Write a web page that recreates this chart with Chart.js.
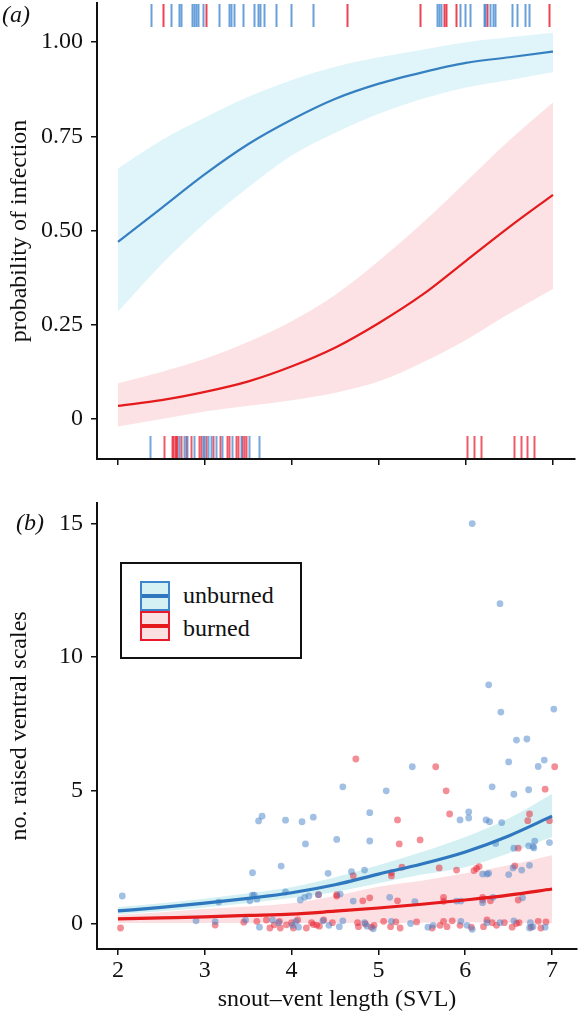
<!DOCTYPE html>
<html>
<head>
<meta charset="utf-8">
<script src="https://cdn.jsdelivr.net/npm/chart.js@4/dist/chart.umd.min.js"></script>
<style>
  html, body { margin:0; padding:0; background:#fff; }
  body { width:581px; height:1019px; position:relative; overflow:hidden; font-family:"Liberation Serif", "DejaVu Serif", serif; }
  #ca { position:absolute; left:0; top:0; }
  #cb { position:absolute; left:0; top:490px; }
  .plab { position:absolute; font-style:italic; font-size:24px; line-height:28px; color:#111; }
  #legend { position:absolute; left:120px; top:562px; width:178px; height:93px; border:2px solid #111; background:#fff; }
  .key { position:absolute; left:18px; width:26px; height:26px; border:2px solid; }
  .key i { position:absolute; left:0; right:0; top:11px; height:4px; }
  .ltxt { position:absolute; left:61px; font-size:24px; line-height:28px; color:#111; }
</style>
</head>
<body>
<canvas id="ca" width="581" height="490"></canvas>
<canvas id="cb" width="581" height="529"></canvas>
<div class="plab" style="left:2px;top:0px;">(<i>a</i>)</div>
<div class="plab" style="left:16px;top:508px;">(<i>b</i>)</div>
<div id="legend">
  <div class="key" style="top:17px;border-color:#3d86cc;background:#d6f1f4;"><i style="background:#2f78bf"></i></div>
  <div class="ltxt" style="top:17px;">unburned</div>
  <div class="key" style="top:47px;border-color:#e8192c;background:#fbe0e1;"><i style="background:#e41a1c"></i></div>
  <div class="ltxt" style="top:50px;">burned</div>
</div>
<script>
// ---------- DATA ----------
const xTicks = [2, 3, 4, 5, 6, 7];
const yTicksA = [0, 0.25, 0.5, 0.75, 1];
const yTickLabelsA = ['0', '0.25', '0.50', '0.75', '1.00'];
const yTicksB = [0, 5, 10, 15];

const svlGrid = [2, 2.5, 3, 3.5, 4, 4.5, 5, 5.5, 6, 6.5, 7];

// panel (a): probability of infection
const unburnedProb   = [0.47, 0.56, 0.65, 0.73, 0.795, 0.85, 0.89, 0.92, 0.945, 0.96, 0.975];
const unburnedProbHi = [0.665, 0.74, 0.80, 0.855, 0.90, 0.935, 0.96, 0.98, 1.0, 1.013, 1.025];
const unburnedProbLo = [0.285, 0.41, 0.52, 0.615, 0.70, 0.76, 0.81, 0.85, 0.88, 0.90, 0.92];
const burnedProb     = [0.035, 0.05, 0.072, 0.10, 0.14, 0.19, 0.255, 0.33, 0.42, 0.51, 0.595];
const burnedProbHi   = [0.095, 0.125, 0.16, 0.205, 0.26, 0.33, 0.42, 0.52, 0.63, 0.74, 0.84];
const burnedProbLo   = [-0.02, 0.0, 0.02, 0.035, 0.05, 0.07, 0.10, 0.15, 0.21, 0.28, 0.345];

// rug marks (SVL of individuals): infected (top) / uninfected (bottom)
const rugUnburnedInfected = [2.38, 2.61, 2.70, 2.72, 2.85, 2.87, 2.90, 2.92, 2.98, 3.16, 3.28, 3.30, 3.33, 3.44, 3.56, 3.61, 3.63, 3.68, 3.82, 3.99, 4.24, 5.67, 5.69, 5.71, 5.93, 5.99, 6.05, 6.21, 6.22, 6.28, 6.31, 6.33, 6.53, 6.59, 6.68, 6.72];
const rugBurnedInfected = [2.52, 3.01, 4.63, 5.47, 5.75, 5.77, 5.89, 6.24, 6.95];
const rugUnburnedClean = [2.37, 2.70, 2.76, 2.79, 2.87, 2.98, 2.99, 3.03, 3.07, 3.13, 3.20, 3.31, 3.41, 3.51, 3.62];
const rugBurnedClean = [2.53, 2.62, 2.63, 2.66, 2.67, 2.68, 2.72, 2.78, 2.84, 2.93, 2.95, 3.01, 3.09, 3.17, 3.25, 3.28, 3.36, 3.38, 3.43, 3.45, 3.47, 6.01, 6.09, 6.17, 6.55, 6.63, 6.70, 6.78];

// panel (b): number of raised ventral scales
const unburnedCount   = [0.49, 0.62, 0.78, 0.96, 1.17, 1.47, 1.87, 2.25, 2.7, 3.3, 4.04];
const unburnedCountHi = [0.64, 0.78, 0.95, 1.15, 1.38, 1.75, 2.2, 2.7, 3.26, 3.95, 4.87];
const unburnedCountLo = [0.37, 0.48, 0.62, 0.79, 0.97, 1.2, 1.53, 1.85, 2.13, 2.65, 3.26];
const burnedCount     = [0.19, 0.23, 0.27, 0.32, 0.37, 0.48, 0.6, 0.74, 0.9, 1.08, 1.31];
const burnedCountHi   = [0.34, 0.44, 0.56, 0.66, 0.78, 1.05, 1.4, 1.62, 1.9, 2.2, 2.58];
const burnedCountLo   = [0.04, 0.04, 0.04, 0.035, 0.03, 0.035, 0.04, 0.05, 0.07, 0.05, 0.04];

const unburnedSVL = [2.05, 2.90, 3.12, 3.16, 3.47, 3.52, 3.55, 3.57, 3.55, 3.60, 3.62, 3.66, 3.63, 3.78, 3.85, 3.88, 3.93, 3.93, 4.01, 4.05, 4.08, 4.10, 4.12, 4.15, 4.16, 4.20, 4.25, 4.31, 4.36, 4.42, 4.43, 4.52, 4.56, 4.59, 4.69, 4.71, 4.84, 4.90, 4.90, 5.13, 5.09, 5.39, 5.42, 5.94, 5.90, 5.95, 6.04, 6.04, 6.08, 6.24, 6.28, 6.20, 6.25, 6.27, 6.20, 6.27, 6.31, 6.32, 6.35, 6.40, 6.41, 6.42, 6.50, 6.50, 6.55, 6.56, 6.56, 6.59, 6.65, 6.66, 6.71, 6.73, 6.73, 6.74, 6.78, 6.80, 6.79, 6.84, 6.91, 6.97, 7.02,
  4.55, 4.59, 4.84, 4.87, 4.94, 5.15, 5.37, 5.57, 5.63, 5.95, 6.02, 6.08, 6.25, 6.40, 6.56, 6.74, 6.75, 6.78, 6.92];
const unburnedScales = [1.05, 0.12, 0.09, 0.82, 0.15, 0.87, 1.08, 1.08, 1.92, 0.93, 3.86, 4.04, -0.12, 0.15, 0.05, 2.17, 1.2, 3.89, -0.05, 0.1, -0.12, 0.9, 3.83, 1.0, 3.0, 1.05, 4.0, 1.1, 0.12, 1.9, -0.05, 3.17, 1.12, 5.14, 1.96, 0.86, 2.02, 4.17, 3.11, 1.0, 4.99, 5.89, 0.84, 3.9, 0.86, 0.86, 4.2, 3.97, 15.0, 3.9, 3.83, 1.87, 1.87, 1.9, 0.8, 8.96, 5.14, 1.0, 3.02, 12.0, 7.94, 3.8, 6.07, 1.85, 2.1, 4.86, 2.84, 6.89, 2.02, 0.98, 6.93, 5.03, 2.93, 2.2, 2.9, 3.1, 2.85, 5.9, 6.14, 3.05, 8.05,
  -0.1, 0.12, 0.05, -0.08, -0.18, 0.1, 0.02, -0.12, -0.05, 0.1, -0.05, -0.2, 0.05, 0.05, 0.12, -0.15, 0.05, -0.1, -0.12];
const burnedSVL = [2.03, 3.12, 3.45, 3.60, 3.71, 3.75, 3.80, 3.86, 3.87, 3.94, 4.00, 4.02, 4.07, 4.17, 4.23, 4.25, 4.29, 4.31, 4.32, 4.37, 4.47, 4.52, 4.52, 4.71, 4.74, 4.82, 4.90, 5.15, 5.15, 5.22, 5.22, 5.24, 5.27, 5.48, 5.66, 5.70, 5.75, 5.75, 5.78, 5.82, 5.90, 6.10, 6.13, 6.16, 6.20, 6.20, 6.29, 6.57, 6.61, 6.61, 6.72, 6.74, 6.92, 6.97, 7.03,
  4.76, 4.77, 4.85, 4.92, 4.95, 5.06, 5.14, 5.20, 5.25, 5.44, 5.62, 5.71, 5.75, 5.79, 5.85, 5.94, 6.07, 6.21, 6.25, 6.31, 6.36, 6.45, 6.54, 6.59, 6.62, 6.76, 6.84, 6.87, 6.93];
const burnedScales = [-0.15, -0.04, 0.07, 0.1, 0.15, -0.15, -0.03, 0.1, -0.15, -0.03, 0.05, -0.15, 0.15, -0.15, 0.05, -0.02, -0.04, 1.1, -0.08, 0.15, 0.05, 1.1, 1.05, 1.81, 6.18, 0.87, 0.98, 1.92, 1.8, 3.9, 0.87, 3.0, 2.13, 3.15, 5.89, 2.1, 1.0, 0.85, 4.99, 4.12, 2.02, 2.0, 2.08, 2.15, 1.0, 0.9, 0.87, 2.18, 2.84, 0.9, 3.87, 4.12, 5.05, 3.87, 5.89,
  0.05, -0.1, 0.0, -0.12, -0.05, 0.1, -0.1, 0.08, -0.15, 0.08, -0.15, -0.05, 0.1, -0.1, 0.12, -0.05, -0.12, -0.1, 0.15, 0.05, -0.05, 0.05, -0.12, 0.02, 0.05, -0.12, 0.1, -0.15, 0.08];

// ---------- STYLE ----------
const BLUE = '#3680c2', RED = '#e41a1c';
const SERIF = '"Liberation Serif", "DejaVu Serif", serif';
Chart.defaults.font.family = SERIF;
Chart.defaults.color = '#111';

const pts = (xs, ys) => xs.map((x, i) => ({x, y: ys[i]}));

function lineDs(ys, color, width, order) {
  return {data: pts(svlGrid, ys), showLine: true, borderColor: color, borderWidth: width,
    pointRadius: 0, cubicInterpolationMode: 'monotone', fill: false, order};
}
function bandDs(hi, lo, fillColor, order) {
  return [
    {data: pts(svlGrid, hi), showLine: true, borderWidth: 0, borderColor: 'rgba(0,0,0,0)', pointRadius: 0, cubicInterpolationMode: 'monotone', fill: false, order},
    {data: pts(svlGrid, lo), showLine: true, borderWidth: 0, borderColor: 'rgba(0,0,0,0)', pointRadius: 0, cubicInterpolationMode: 'monotone', fill: '-1', backgroundColor: fillColor, order}
  ];
}

function xScale(showLabels, height, title) {
  return {
    type: 'linear', min: 1.759, max: showLabels ? 7.287 : 7.253,
    afterBuildTicks: s => { s.ticks = xTicks.map(v => ({value: v})); },
    afterFit: s => { s.height = height; s.paddingLeft = 0; s.paddingRight = 0; },
    border: {display: true, color: '#111', width: 2},
    grid: {drawOnChartArea: false, drawTicks: true, tickLength: 6, color: '#111', lineWidth: 1.5},
    ticks: {display: showLabels, font: {size: 24, family: SERIF}, color: '#111', padding: 1},
    title: title ? {display: true, text: title, font: {size: 24, family: SERIF}, color: '#111', padding: {top: 0, bottom: 5}} : {display: false}
  };
}
function yScale(min, max, ticks, labels, title) {
  return {
    type: 'linear', min, max,
    afterBuildTicks: s => { s.ticks = ticks.map(v => ({value: v})); },
    afterFit: s => { s.width = 97; s.paddingTop = 0; s.paddingBottom = 0; },
    border: {display: true, color: '#111', width: 2},
    grid: {drawOnChartArea: false, drawTicks: true, tickLength: 6, color: '#111', lineWidth: 1.5},
    ticks: {font: {size: 24, family: SERIF}, color: '#111', padding: 8,
      callback: (v, i) => labels ? labels[i] : String(v)},
    title: {display: true, text: title, font: {size: 24, family: SERIF}, color: '#111', padding: {top: 5, bottom: 0}}
  };
}

// rug plugin: draws marks at the x-scale pixel of each SVL value
const rugPlugin = {
  id: 'rug',
  afterDatasetsDraw(chart) {
    const {ctx, chartArea, scales} = chart;
    const groups = [
      [rugBurnedInfected, 'top', 'rgba(232,20,40,0.8)'],
      [rugUnburnedInfected, 'top', 'rgba(55,128,205,0.75)'],
      [rugBurnedClean, 'bottom', 'rgba(232,20,40,0.7)'],
      [rugUnburnedClean, 'bottom', 'rgba(55,128,205,0.7)']
    ];
    ctx.save();
    ctx.lineWidth = 2;
    for (const [vals, side, col] of groups) {
      ctx.strokeStyle = col;
      for (const v of vals) {
        const px = Math.round(scales.x.getPixelForValue(v)) + 0.5;
        ctx.beginPath();
        if (side === 'top') { ctx.moveTo(px, chartArea.top + 1); ctx.lineTo(px, chartArea.top + 24); }
        else { ctx.moveTo(px, chartArea.bottom - 23); ctx.lineTo(px, chartArea.bottom - 1); }
        ctx.stroke();
      }
    }
    ctx.restore();
  }
};

const common = {
  responsive: false, animation: false, devicePixelRatio: 1, events: [],
  plugins: {legend: {display: false}, tooltip: {enabled: false}, filler: {propagate: false}},
};

// ---------- PANEL A ----------
new Chart(document.getElementById('ca'), {
  type: 'scatter',
  data: {datasets: [
    lineDs(unburnedProb, BLUE, 2.2, 0),
    lineDs(burnedProb, RED, 2.2, 0),
    ...bandDs(unburnedProbHi, unburnedProbLo, 'rgba(150,222,236,0.3)', 5),
    ...bandDs(burnedProbHi, burnedProbLo, 'rgba(245,150,158,0.28)', 5)
  ]},
  options: {...common,
    layout: {padding: {top: 3, right: 6, left: 0, bottom: 0}},
    scales: {x: xScale(false, 31, null), y: yScale(-0.106, 1.104, yTicksA, yTickLabelsA, 'probability of infection')}
  },
  plugins: [rugPlugin]
});

// ---------- PANEL B ----------
new Chart(document.getElementById('cb'), {
  type: 'scatter',
  data: {datasets: [
    lineDs(unburnedCount, '#2f78bf', 3.2, 0),
    lineDs(burnedCount, RED, 3.2, 0),
    {data: pts(unburnedSVL, unburnedScales), pointRadius: 3.4, pointBorderWidth: 0, backgroundColor: 'rgba(70,130,200,0.5)', order: 3},
    {data: pts(burnedSVL, burnedScales), pointRadius: 3.4, pointBorderWidth: 0, backgroundColor: 'rgba(232,30,45,0.5)', order: 3},
    ...bandDs(unburnedCountHi, unburnedCountLo, 'rgba(120,208,214,0.32)', 5),
    ...bandDs(burnedCountHi, burnedCountLo, 'rgba(245,150,158,0.3)', 5)
  ]},
  options: {...common,
    layout: {padding: {top: 13, right: 3, left: 0, bottom: 0}},
    scales: {x: xScale(true, 70, 'snout–vent length (SVL)'), y: yScale(-0.936, 15.77, yTicksB, null, 'no. raised ventral scales')}
  }
});
</script>
</body>
</html>
